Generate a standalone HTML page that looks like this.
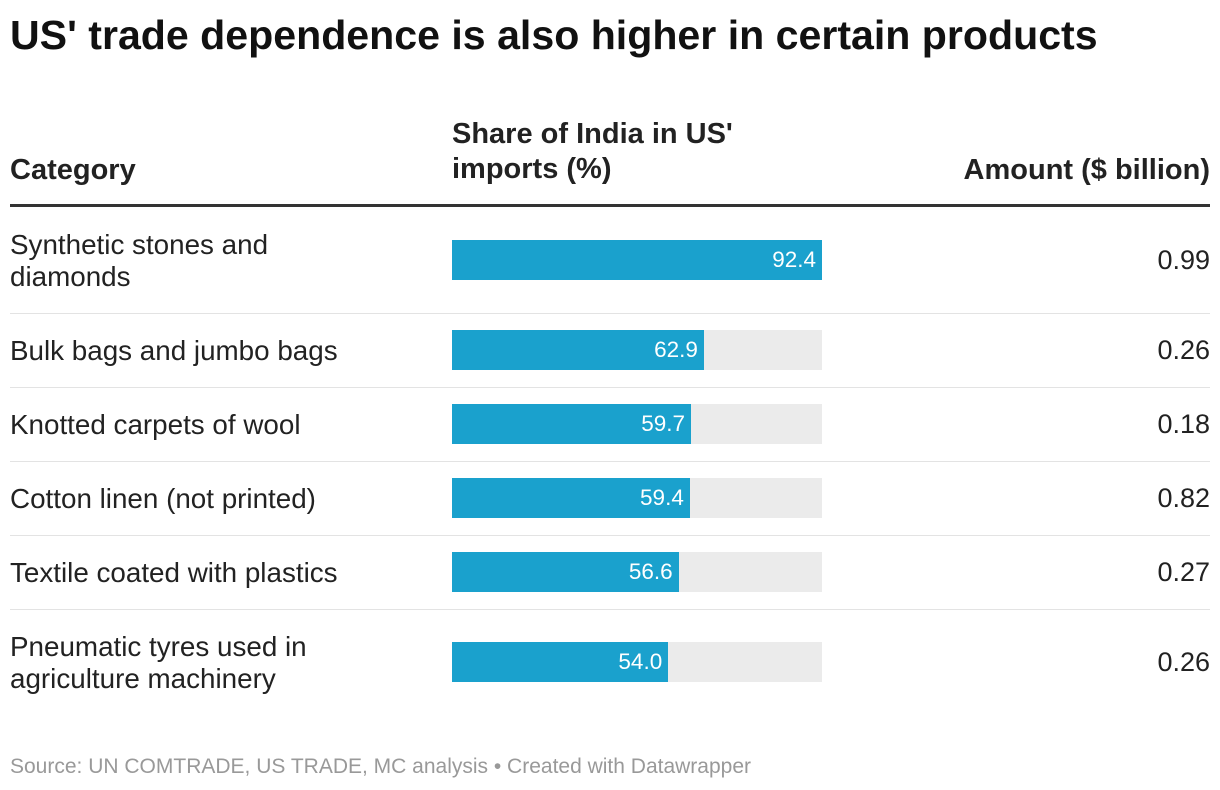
<!DOCTYPE html>
<html><head><meta charset="utf-8">
<style>
body{margin:0;width:1220px;height:790px;background:#fff;font-family:"Liberation Sans",sans-serif;color:#222;position:relative;overflow:hidden}
.abs{position:absolute}
h1{position:absolute;left:10px;top:12px;margin:0;font-size:41.1px;font-weight:bold;color:#111}
.hdr{font-weight:bold;font-size:29px;color:#222;line-height:35px}
.lbl{font-size:27.8px;line-height:32px;left:10px;color:#222}
.amt{font-size:27px;right:10px;text-align:right}
.bg{background:#ebebeb;height:40px}
.bar{background:#1aa1cd;height:40px}
.val{color:#fff;font-size:22.5px;text-align:right;line-height:40px}
.sep{left:10px;width:1200px;height:1px;background:#e3e3e3}
</style></head><body>
<h1>US' trade dependence is also higher in certain products</h1>
<div class="abs hdr" style="left:10px;top:153px">Category</div>
<div class="abs hdr" style="left:452px;top:117px">Share of India in US'<br>imports (%)</div>
<div class="abs hdr" style="right:10px;top:153px;text-align:right">Amount ($ billion)</div>
<div class="abs" style="left:10px;top:204px;width:1200px;height:3px;background:#333"></div>
<div id="rows"></div>
<div class="abs" style="left:10px;top:755px;font-size:21px;color:#999">Source: UN COMTRADE, US TRADE, MC analysis • Created with Datawrapper</div>
<script>
const categories=["Synthetic stones and<br>diamonds","Bulk bags and jumbo bags","Knotted carpets of wool","Cotton linen (not printed)","Textile coated with plastics","Pneumatic tyres used in<br>agriculture machinery"];
const shares=[92.4,62.9,59.7,59.4,56.6,54.0];
const amounts=["0.99","0.26","0.18","0.82","0.27","0.26"];
const centers=[260,350,424,498,572,662];
const seps=[313,387,461,535,609];
const x0=452,W=370,maxV=Math.max(...shares);
const root=document.getElementById('rows');
function xs(v){return v/maxV*W;}
categories.forEach((c,i)=>{
 const cy=centers[i];
 const l=document.createElement('div');l.className='abs lbl';l.innerHTML=c;
 const lines=c.split('<br>').length;l.style.top=(cy-lines*16+1)+'px';
 
 
 root.appendChild(l);
 const bg=document.createElement('div');bg.className='abs bg';bg.style.left=x0+'px';bg.style.width=W+'px';bg.style.top=(cy-20)+'px';
 
 
 root.appendChild(bg);
 const b=document.createElement('div');b.className='abs bar';b.style.left=x0+'px';b.style.width=xs(shares[i])+'px';b.style.top=(cy-20)+'px';
 
 
 const v=document.createElement('div');v.className='val';v.style.paddingRight='6px';v.textContent=shares[i].toFixed(1);
 
 
 b.appendChild(v);root.appendChild(b);
 const a=document.createElement('div');a.className='abs amt';a.textContent=amounts[i];a.style.top=(cy-15)+'px';
 
 
 root.appendChild(a);
});
seps.forEach(y=>{const s=document.createElement('div');s.className='abs sep';s.style.top=y+'px';
 
 
 root.appendChild(s);});
</script>
</body></html>
